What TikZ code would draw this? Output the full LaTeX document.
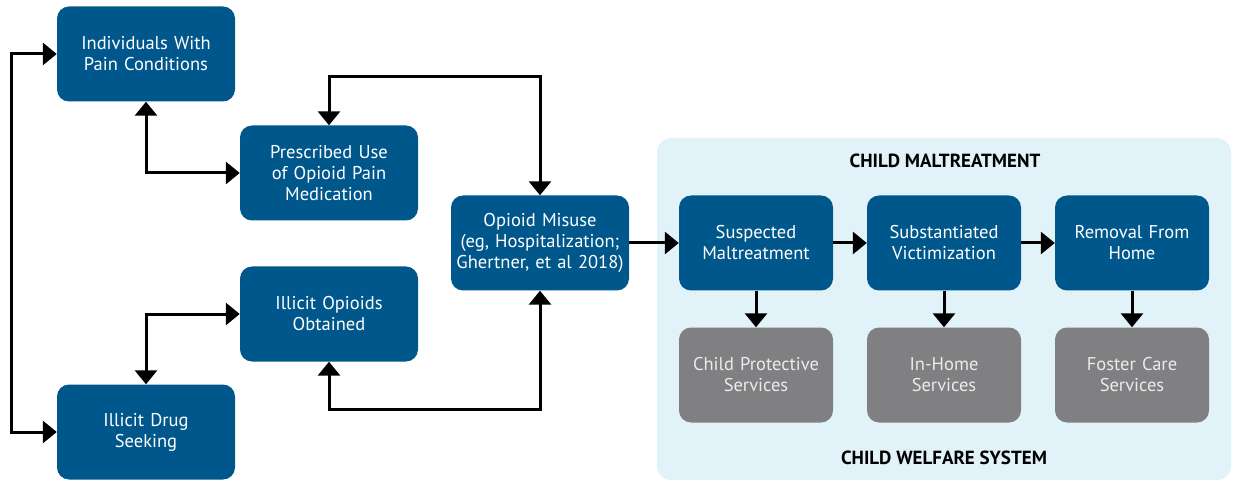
\documentclass[tikz,border=0pt]{standalone}
\usepackage{fontspec}
\setmainfont{PT Sans}
\usetikzlibrary{arrows.meta}
\definecolor{nblue}{RGB}{0,87,140}
\definecolor{ngray}{RGB}{128,128,131}
\definecolor{panel}{RGB}{225,242,248}
\begin{document}
\begin{tikzpicture}[x=1pt,y=-1pt,
  box/.style={fill=nblue, rounded corners=12pt, text=white, align=center,
    minimum height=95pt, inner sep=2pt, font=\fontsize{18.5}{21}\selectfont},
  wide/.style={box, minimum width=178pt, text width=174pt},
  narrow/.style={box, minimum width=153pt, text width=150pt},
  gbox/.style={narrow, fill=ngray, text={white!92!black}},
  conn/.style={line width=3pt, -{Triangle[width=22pt,length=14pt]}},
  conn2/.style={line width=3pt, {Triangle[width=22pt,length=14pt]}-{Triangle[width=22pt,length=14pt]}},
  ttl/.style={font=\bfseries\fontsize{19}{22}\selectfont, text=black}]
\useasboundingbox (0,0) rectangle (1235,481);
\fill[panel, rounded corners=14pt] (657,138) rectangle (1231,480);
\node[ttl] (t1) at (945,161) {CHILD MALTREATMENT};
\node[ttl] (t2) at (944,458) {CHILD WELFARE SYSTEM};

\node[wide] (ind) at (146,54) {Individuals With\\Pain Conditions};
\node[wide] (presc) at (329,173) {Prescribed Use\\of Opioid Pain\\Medication};
\node[wide] (illicit) at (329,314) {Illicit Opioids\\Obtained};
\node[wide] (seek) at (146,432) {Illicit Drug\\Seeking};
\node[wide] (misuse) at (540,243) {Opioid Misuse\\(eg, Hospitalization;\\Ghertner, et al 2018)};

\node[narrow] (susp) at (756,243) {Suspected\\Maltreatment};
\node[narrow] (subst) at (944,243) {Substantiated\\Victimization};
\node[narrow] (remov) at (1132,243) {Removal From\\Home};
\node[gbox] (cps) at (756,375) {Child Protective\\Services};
\node[gbox] (inhome) at (944,375) {In-Home\\Services};
\node[gbox] (foster) at (1132,375) {Foster Care\\Services};

\draw[conn2] (ind.west) -- ++(-45,0) |- (seek.west);
\draw[conn2] (ind.south) |- (presc.west);
\draw[conn2] (seek.north) |- (illicit.west);
\draw[conn2] (presc.north) -- ++(0,-49) -| (misuse.north);
\draw[conn2] (illicit.south) -- ++(0,48) -| (misuse.south);
\draw[conn] (misuse.east) -- (susp.west);
\draw[conn] (susp.east) -- (subst.west);
\draw[conn] (subst.east) -- (remov.west);
\draw[conn] (susp.south) -- (cps.north);
\draw[conn] (subst.south) -- (inhome.north);
\draw[conn] (remov.south) -- (foster.north);
\end{tikzpicture}
\end{document}
